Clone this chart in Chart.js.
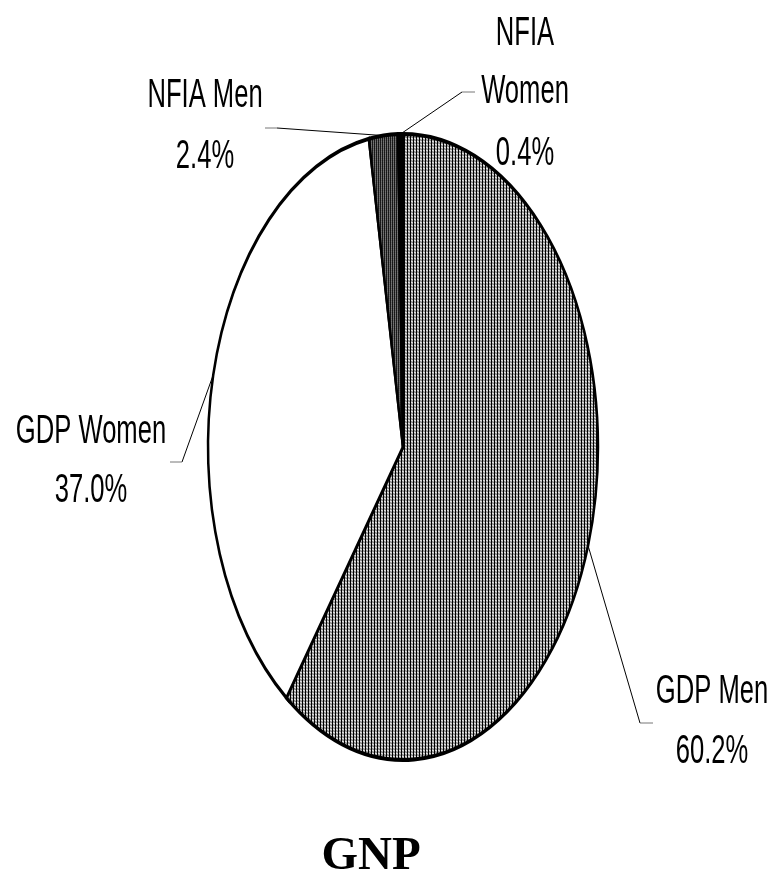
<!DOCTYPE html>
<html>
<head>
<meta charset="utf-8">
<script src="https://cdn.jsdelivr.net/npm/chart.js@4"></script>
<style>
  html, body { margin: 0; padding: 0; background: #fff; }
  canvas { display: block; }
</style>
</head>
<body>
<canvas id="gnp_pie" width="772" height="875"></canvas>
<script>
// data
var categories = ['GDP Men', 'GDP Women', 'NFIA Men', 'NFIA Women'];
var shares = [60.2, 37.0, 2.4, 0.4];
var labelLines = [['GDP Men'], ['GDP Women'], ['NFIA Men'], ['NFIA', 'Women']];
var title = 'GNP';

// pie is an ellipse: horizontal radius RX, stretched vertically by SY
var RX = 195;
var SY = 313 / 195;

// where each label goes (elbow of leader, end of tail, text centre, baselines)
var labelLayout = [
  { elbow: [640, 723], tail: [653, 723], cx: 712, base: [703, 763] },
  { elbow: [182, 462], tail: [170, 462], cx: 91,  base: [443, 502] },
  { elbow: [277, 128], tail: [265, 128], cx: 205, base: [107, 168] },
  { elbow: [462, 92],  tail: [475, 92],  cx: 525, base: [45, 103, 165] }
];

function makePattern(size, pix) {
  var c = document.createElement('canvas');
  c.width = size; c.height = size;
  var g = c.getContext('2d');
  for (var y = 0; y < size; y++) {
    for (var x = 0; x < size; x++) {
      g.fillStyle = pix[y][x];
      g.fillRect(x, y, 1, 1);
    }
  }
  var p = document.getElementById('gnp_pie').getContext('2d').createPattern(c, 'repeat');
  if (p.setTransform) p.setTransform(new DOMMatrix().scale(1, 1 / SY));
  return p;
}

var greyDots = makePattern(3, [
  ['#fff', '#bbb', '#000'],
  ['#bbb', '#fff', '#000'],
  ['#555', '#555', '#000']
]);
var darkDots = makePattern(2, [
  ['#000', '#333'],
  ['#333', '#aaa']
]);

var ellipse = {
  id: 'ellipse',
  beforeDatasetsDraw: function(chart) {
    var a = chart.getDatasetMeta(0).data[0];
    var ctx = chart.ctx;
    ctx.save();
    ctx.translate(a.x, a.y);
    ctx.scale(1, SY);
    ctx.translate(-a.x, -a.y);
  },
  afterDatasetsDraw: function(chart) {
    chart.ctx.restore();
  }
};

var pieLabels = {
  id: 'pieLabels',
  afterDraw: function(chart) {
    var ctx = chart.ctx;
    var arcs = chart.getDatasetMeta(0).data;
    var vals = chart.data.datasets[0].data;
    ctx.save();
    for (var i = 0; i < arcs.length; i++) {
      var a = arcs[i];
      var mid = (a.startAngle + a.endAngle) / 2;
      var ex = a.x + a.outerRadius * Math.cos(mid);
      var ey = a.y + a.outerRadius * SY * Math.sin(mid);
      var L = labelLayout[i];

      ctx.strokeStyle = '#000';
      ctx.lineWidth = 1;
      ctx.beginPath();
      ctx.moveTo(ex, ey);
      ctx.lineTo(L.elbow[0], L.elbow[1]);
      ctx.stroke();
      ctx.strokeStyle = '#777';
      ctx.beginPath();
      ctx.moveTo(L.elbow[0], L.elbow[1]);
      ctx.lineTo(L.tail[0], L.tail[1]);
      ctx.stroke();

      var lines = labelLines[i].concat([vals[i].toFixed(1) + '%']);
      ctx.fillStyle = '#000';
      ctx.font = '40px "Liberation Sans", Arial, sans-serif';
      ctx.textAlign = 'center';
      ctx.textBaseline = 'alphabetic';
      for (var k = 0; k < lines.length; k++) {
        ctx.save();
        ctx.translate(L.cx, L.base[k]);
        ctx.scale(0.64, 1);
        ctx.fillText(lines[k], 0, 0);
        ctx.restore();
      }
    }
    ctx.font = 'bold 47px "Liberation Serif", "Times New Roman", serif';
    ctx.textAlign = 'center';
    ctx.fillText(title, 371, 869);
    ctx.restore();
  }
};

var ctx = document.getElementById('gnp_pie').getContext('2d');
var chart = new Chart(ctx, {
  type: 'pie',
  data: {
    labels: categories,
    datasets: [{
      data: shares,
      backgroundColor: [greyDots, '#ffffff', darkDots, '#000000'],
      borderColor: '#000',
      borderWidth: 2.5,
      borderJoinStyle: 'miter',
      radius: RX
    }]
  },
  options: {
    responsive: false,
    maintainAspectRatio: false,
    animation: false,
    events: [],
    layout: { padding: { left: 208, right: 174, top: 252, bottom: 233 } },
    plugins: {
      legend: { display: false },
      tooltip: { enabled: false },
      title: { display: false }
    }
  },
  plugins: [ellipse, pieLabels]
});
</script>
</body>
</html>
